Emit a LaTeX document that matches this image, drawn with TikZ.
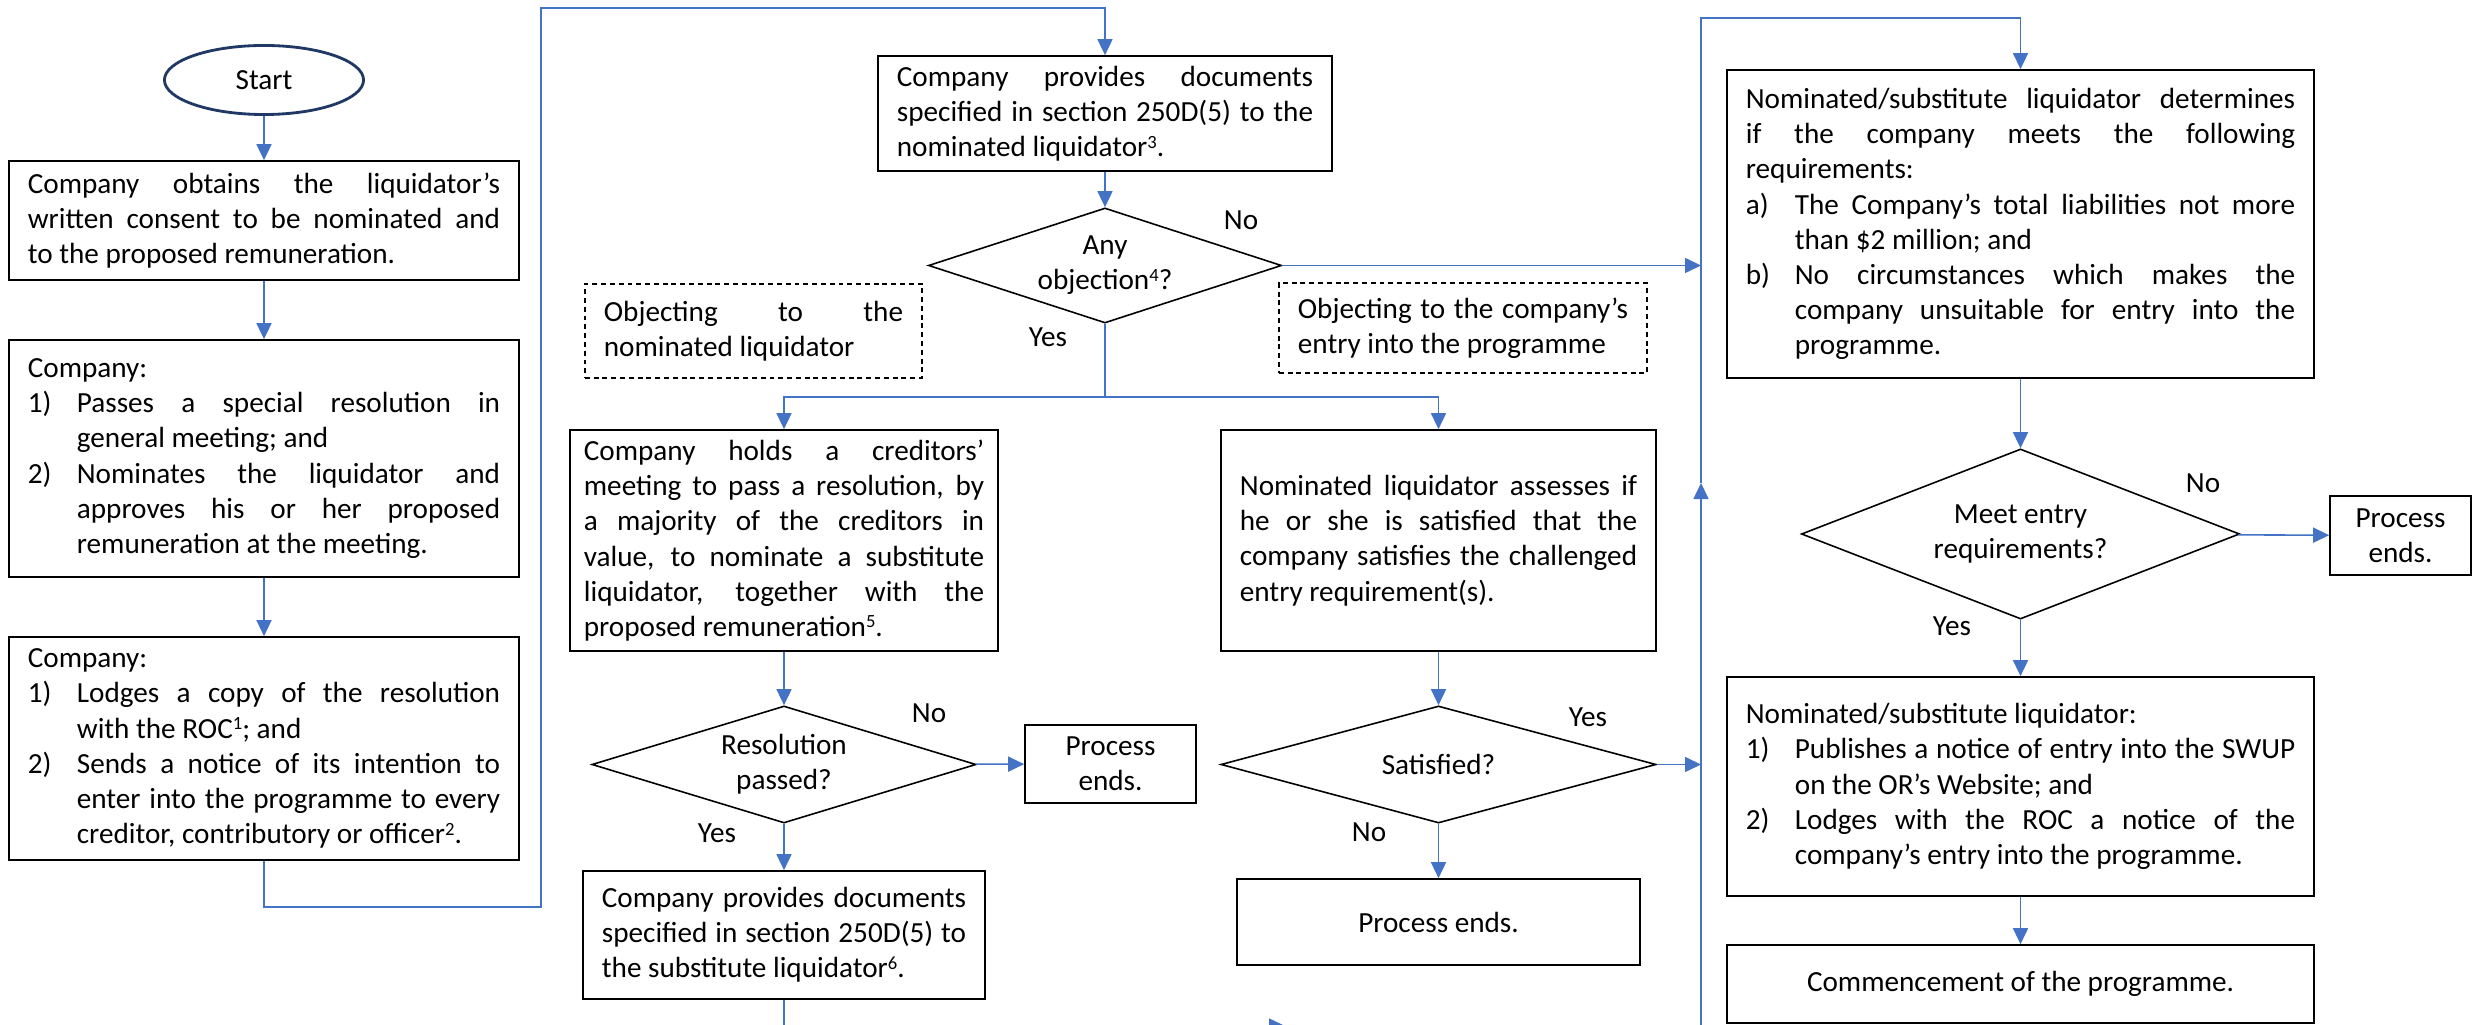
\documentclass[tikz,border=0pt]{standalone}
\usepackage{fontspec}
\setmainfont{Carlito}[WordSpace={1,1,0}]
\usetikzlibrary{shapes.geometric,arrows.meta}

\definecolor{flowblue}{HTML}{4472C4}
\definecolor{startnavy}{HTML}{1F3864}

\hyphenpenalty=10000
\exhyphenpenalty=10000
\tolerance=9999
\emergencystretch=2em

% numbered line inside a box, hanging under its own text
\newcommand{\hangitem}[2]{\par\noindent\hangindent=0.49cm\hangafter=1\makebox[0.49cm][l]{#1}#2\par}
% footnote number
\newcommand{\fnum}[1]{\raisebox{0.6ex}{\fontsize{5.3}{6}\selectfont#1}}

\begin{document}
\begin{tikzpicture}[x=0.01cm, y=-0.01cm,
    font=\fontsize{8.3}{10}\selectfont,
    stepbox/.style ={rectangle, draw, line width=0.45pt, align=justify, inner xsep=0.19cm, inner ysep=0pt},
    endbox/.style ={rectangle, draw, line width=0.45pt, align=center, inner sep=0pt},
    note/.style ={rectangle, draw, line width=0.45pt, dash pattern=on 1.4pt off 1.1pt, align=justify, inner xsep=0.19cm, inner ysep=0pt},
    decision/.style ={diamond, draw, line width=0.45pt, align=center, inner sep=0pt},
    terminal/.style ={ellipse, draw=startnavy, line width=0.8pt, inner sep=0pt},
    flow/.style ={draw=flowblue, line width=0.45pt, -{Triangle[length=0.16cm, width=0.15cm]}},
    link/.style ={draw=flowblue, line width=0.45pt}]

   \useasboundingbox (0,0) rectangle (2491,1025);
   \clip (0,0) rectangle (2491,1025);

   % first column
   \node[terminal, minimum width=1.99cm, minimum height=0.69cm] (start) at (264,80) {Start};
   \node[stepbox, text width=4.72cm, minimum height=1.19cm] (consent) at (264,220.5)
     {Company obtains the liquidator’s written consent to be nominated and to the proposed remuneration.};
   \node[stepbox, text width=4.72cm, minimum height=2.37cm] (meeting) at (264,458.5)
     {Company:\hangitem{1)}{Passes a special resolution in general meeting; and}\hangitem{2)}{Nominates the liquidator and approves his or her proposed remuneration at the meeting.}};
   \node[stepbox, text width=4.72cm, minimum height=2.23cm] (lodge) at (264,748.5)
     {Company:\hangitem{1)}{Lodges a copy of the resolution with the ROC\fnum{1}; and}\hangitem{2)}{Sends a notice of its intention to enter into the programme to every creditor, contributory or officer\fnum{2}.}};

   % second and third columns
   \node[stepbox, text width=4.16cm, minimum height=1.15cm] (docs) at (1105,113.5)
     {Company provides documents specified in section 250D(5) to the nominated liquidator\fnum{3}.};
   \node[decision, aspect=3.07, minimum width=3.53cm, minimum height=1.15cm] (obj) at (1105,265.5)
     {Any\\objection\fnum{4}?};
   \node[note, text width=2.99cm, minimum height=0.94cm] (againstliq) at (753.5,331)
     {Objecting to the nominated liquidator};
   \node[note, text width=3.30cm, minimum height=0.90cm] (againstentry) at (1463,328)
     {Objecting to the company’s entry into the programme};
   \node[stepbox, text width=4.00cm, inner xsep=0.14cm, minimum height=2.21cm] (hold) at (784,540.5)
     {Company holds a creditors’ meeting to pass a resolution, by\linebreak a majority of the creditors in value, to nominate a substitute liquidator, together with the proposed remuneration\fnum{5}.};
   \node[decision, aspect=3.28, minimum width=3.84cm, minimum height=1.17cm] (resol) at (784,764.5)
     {Resolution\\passed?};
   \node[endbox, minimum width=1.71cm, minimum height=0.78cm] (pendA) at (1110.5,764)
     {Process\\ends.};
   \node[stepbox, text width=3.64cm, minimum height=1.28cm] (subdoc) at (784,935)
     {Company provides documents specified in section 250D(5) to the substitute liquidator\fnum{6}.};
   \node[stepbox, text width=3.97cm, minimum height=2.21cm] (assess) at (1438.5,540.5)
     {Nominated liquidator assesses if he or she is satisfied that the company satisfies the challenged entry requirement(s).};
   \node[decision, aspect=3.7, minimum width=4.35cm, minimum height=1.17cm] (sat) at (1438.5,764.5)
     {Satisfied?};
   \node[endbox, minimum width=4.03cm, minimum height=0.86cm] (pendB) at (1438.5,922)
     {Process ends.};

   % last column
   \node[stepbox, text width=5.49cm, minimum height=3.08cm] (determ) at (2020.5,224)
     {Nominated/substitute liquidator determines if the company meets the following requirements:\hangitem{a)}{The Company’s total liabilities not more than \$2 million; and}\hangitem{b)}{No circumstances which makes the company unsuitable for entry into the programme.}};
   \node[decision, aspect=2.58, minimum width=4.38cm, minimum height=1.70cm] (meet) at (2020.5,534)
     {Meet entry\\requirements?};
   \node[endbox, minimum width=1.41cm, minimum height=0.79cm] (pendC) at (2400.5,535.5)
     {Process\\ends.};
   \node[stepbox, text width=5.49cm, minimum height=2.19cm] (liq) at (2020.5,786.5)
     {Nominated/substitute liquidator:\hangitem{1)}{Publishes a notice of entry into the SWUP on the OR’s Website; and}\hangitem{2)}{Lodges with the ROC a notice of the company’s entry into the programme.}};
   \node[endbox, minimum width=5.87cm, minimum height=0.78cm] (commence) at (2020.5,984)
     {Commencement of the programme.};

   % branch labels
   \node (objno) at (1241,220) {No};
   \node (objyes) at (1048,337) {Yes};
   \node (resno) at (929,713) {No};
   \node (resyes) at (717,833) {Yes};
   \node (satyes) at (1588,717) {Yes};
   \node (satno) at (1369,832) {No};
   \node (meetno) at (2203,483) {No};
   \node (meetyes) at (1952,626) {Yes};

   \coordinate (vl) at (1701,0);
   \coordinate (lowL) at (264,907);
   \coordinate (topL) at (541,8);
   \coordinate (split) at (1105,397);
   \coordinate (bmid) at (1285,1026);
   \coordinate (umid) at (1701,483);
   \coordinate (topR) at (1701,18);

   \draw[flow] (start) to (consent);
   \draw[flow] (consent) to (meeting);
   \draw[flow] (meeting) to (lodge);
   \draw[flow] (lodge.south) -- (lowL) -| (topL) -| (docs.north);
   \draw[flow] (docs) to (obj);
   \draw[flow] (obj.east) -- (obj.east -| vl);
   \draw[link] (obj.south) -- (split);
   \draw[flow] (split) -| (hold.north);
   \draw[flow] (split) -| (assess.north);
   \draw[flow] (hold) to (resol);
   \draw[flow] (resol) to (pendA);
   \draw[flow] (resol) to (subdoc);
   \draw[flow] (subdoc.south) |- (bmid);
   \draw[flow] (bmid) -| (umid);
   \draw[flow] (umid) -- (topR) -| (determ.north);
   \draw[flow] (assess) to (sat);
   \draw[flow] (sat.east) -- (sat.east -| vl);
   \draw[flow] (sat) to (pendB);
   \draw[flow] (determ) to (meet);
   \draw[flow] (meet) to (pendC);
   \draw[flow] (meet) to (liq);
   \draw[flow] (liq) to (commence);
 \end{tikzpicture}
\end{document}
